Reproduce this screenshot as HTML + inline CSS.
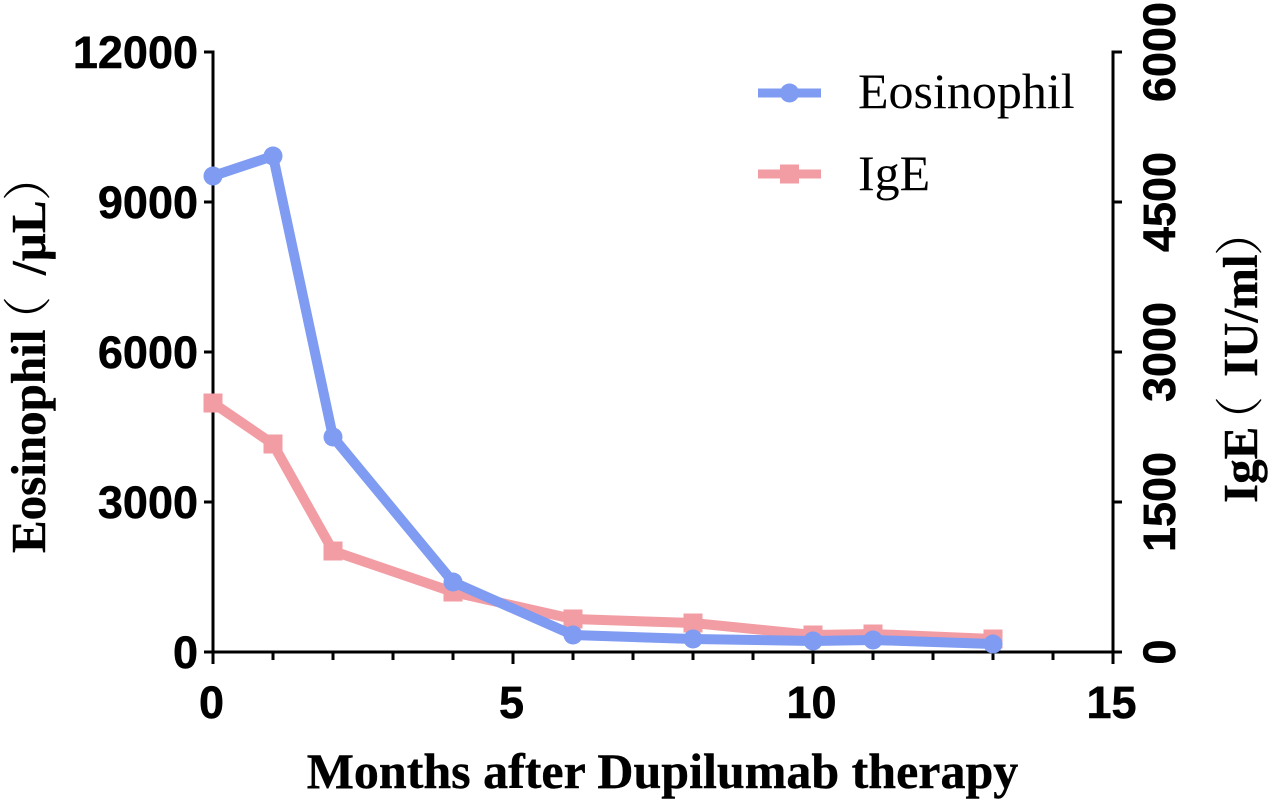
<!DOCTYPE html>
<html lang="en">
<head>
<meta charset="utf-8">
<title>Eosinophil and IgE after Dupilumab therapy</title>
<style>
html,body{margin:0;padding:0;background:#fff;}
svg{display:block;}
.tick{font-family:"Liberation Sans",sans-serif;font-weight:700;font-size:45px;fill:#000;stroke:#000;stroke-width:0.5px;}
.title{font-family:"Liberation Serif","Noto Serif CJK SC",serif;font-weight:700;font-size:49px;fill:#000;stroke:#000;stroke-width:0.4px;}
.title-x{font-size:50px;}
.paren{font-family:"Noto Serif CJK SC",serif;font-weight:400;stroke:none;}
.legend-text{font-family:"Liberation Serif",serif;font-size:50px;fill:#000;}
</style>
</head>
<body>
<svg id="chart" xmlns="http://www.w3.org/2000/svg" width="1271" height="800" viewBox="0 0 1271 800">
  <rect x="0" y="0" width="1271" height="800" fill="#fff"/>
  <g id="axes"></g>
  <g id="series"></g>
  <text class="title title-x" x="662.5" y="788" text-anchor="middle">Months after Dupilumab therapy</text>
  <text class="title" transform="translate(45 553) rotate(-90)"><tspan x="0">Eosinophil</tspan><tspan class="paren" x="208">（</tspan><tspan x="278">/µL</tspan><tspan class="paren" x="352">）</tspan></text>
  <text class="title" transform="translate(1257 503) rotate(-90)"><tspan x="0">IgE</tspan><tspan class="paren" x="58">（</tspan><tspan x="126">IU/ml</tspan><tspan class="paren" x="247">）</tspan></text>
  <g>
    <g>
      <line x1="758" y1="93" x2="821" y2="93" stroke="#7f9bf2" stroke-width="9"/>
      <circle cx="789.5" cy="93" r="9.5" fill="#7f9bf2"/>
      <text class="legend-text" x="858" y="108">Eosinophil</text>
    </g>
    <g>
      <line x1="758" y1="174" x2="821" y2="174" stroke="#f29da4" stroke-width="9"/>
      <rect x="780" y="164.5" width="19" height="19" fill="#f29da4"/>
      <text class="legend-text" x="858" y="190">IgE</text>
    </g>
  </g>
</svg>
<script>
const months = [0, 1, 2, 4, 6, 8, 10, 11, 13];
const eosinophil = [9520, 9920, 4300, 1400, 340, 260, 220, 240, 160];
const ige = [2490, 2080, 1010, 600, 330, 290, 170, 180, 130];
const xTickLabels = [0, 5, 10, 15];
const xMinorTicks = [1, 2, 3, 4, 6, 7, 8, 9, 11, 12, 13, 14];
const leftTickLabels = [0, 3000, 6000, 9000, 12000];
const rightTickLabels = [0, 1500, 3000, 4500, 6000];

const NS = 'http://www.w3.org/2000/svg';
const xScale = v => 213 + (v / 15) * 900;
const yLeft = v => 652 - (v / 12000) * 600;
const yRight = v => 652 - (v / 6000) * 600;
const axes = document.getElementById('axes');
const seriesGroup = document.getElementById('series');

function make(tag, attrs, parent) {
  const el = document.createElementNS(NS, tag);
  for (const k in attrs) el.setAttribute(k, attrs[k]);
  parent.appendChild(el);
  return el;
}
function rule(x1, y1, x2, y2) {
  return make('line', {x1, y1, x2, y2, stroke: '#000', 'stroke-width': 3}, axes);
}

let el = rule(213, 50.5, 213, 653.5);


el = rule(1113, 50.5, 1113, 653.5);


el = rule(204, 652, 1122, 652);



xTickLabels.forEach(v => {
  const t = rule(xScale(v), 652, xScale(v), 664);
  
  
  const l = make('text', {class: 'tick', x: xScale(v) - 1.5, y: 718, 'text-anchor': 'middle'}, axes);
  l.textContent = v;
  
  
});
xMinorTicks.forEach(v => {
  const t = rule(xScale(v), 652, xScale(v), 660);
  
  
});
leftTickLabels.forEach(v => {
  const t = rule(204, yLeft(v), 213, yLeft(v));
  
  
  const l = make('text', {class: 'tick', x: 198, y: yLeft(v) + 16, 'text-anchor': 'end'}, axes);
  l.textContent = v;
  
  
});
rightTickLabels.forEach(v => {
  const t = rule(1113, yRight(v), 1122, yRight(v));
  
  
  const l = make('text', {class: 'tick', transform: 'translate(1175 ' + yRight(v) + ') rotate(-90)', 'text-anchor': 'middle'}, axes);
  l.textContent = v;
  
  
});

const igeColor = '#f29da4';
const eosColor = '#7f9bf2';

const igeLine = make('polyline', {
  points: months.map((m, i) => xScale(m) + ',' + yRight(ige[i])).join(' '),
  fill: 'none', stroke: igeColor, 'stroke-width': 10, 'stroke-linejoin': 'miter'
}, seriesGroup);


months.forEach((m, i) => {
  const p = make('rect', {x: xScale(m) - 9.5, y: yRight(ige[i]) - 9.5, width: 19, height: 19, fill: igeColor}, seriesGroup);
  
  
});

const eosLine = make('polyline', {
  points: months.map((m, i) => xScale(m) + ',' + yLeft(eosinophil[i])).join(' '),
  fill: 'none', stroke: eosColor, 'stroke-width': 10, 'stroke-linejoin': 'miter'
}, seriesGroup);


months.forEach((m, i) => {
  const p = make('circle', {cx: xScale(m), cy: yLeft(eosinophil[i]), r: 9.5, fill: eosColor}, seriesGroup);
  
  
});
</script>
</body>
</html>
